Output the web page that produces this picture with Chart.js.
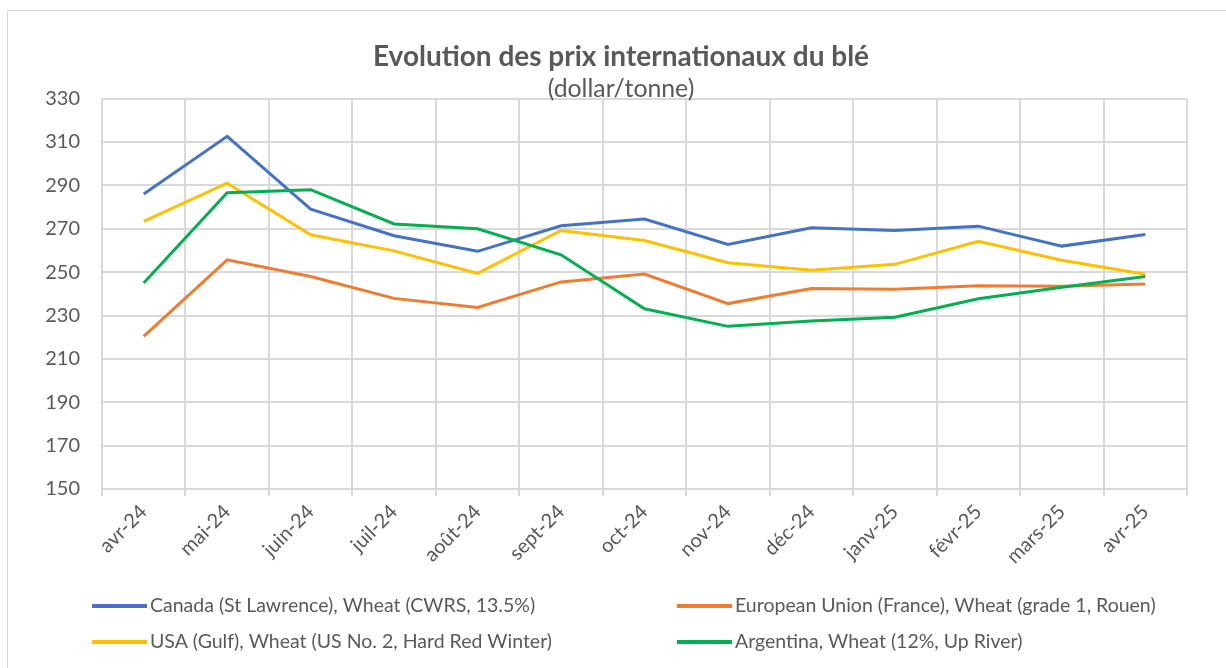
<!DOCTYPE html>
<html>
<head>
<meta charset="utf-8">
<script src="https://cdn.jsdelivr.net/npm/chart.js@4.4.1/dist/chart.umd.min.js"></script>
<style>
    body { margin: 0; background: #fff; }
    #wrap { position: relative; width: 1226px; height: 668px; overflow: hidden; }
    #frame { position: absolute; left: 7px; top: 10px; width: 1240px; height: 700px; border: 1px solid #d9d9d9; pointer-events: none; }
</style>
</head>
<body>
<div id="wrap">
    <div id="frame"></div>
    <canvas id="chart1" width="1226" height="668"></canvas>
</div>
<script>
// data
const months = ['avr-24', 'mai-24', 'juin-24', 'juil-24', 'août-24', 'sept-24', 'oct-24', 'nov-24', 'déc-24', 'janv-25', 'févr-25', 'mars-25', 'avr-25'];

const canada = [286, 312.6, 279, 266.8, 259.6, 271.4, 274.5, 262.8, 270.5, 269.2, 271.2, 262, 267.4];
const europe = [220.4, 255.7, 248, 237.9, 233.7, 245.5, 249.1, 235.5, 242.4, 242.1, 243.7, 243.5, 244.5];
const usa = [273.4, 291, 267.2, 259.8, 249.4, 269.2, 264.6, 254.3, 250.9, 253.6, 264.2, 255.5, 249];
const argentina = [245, 286.6, 288, 272.2, 270, 258, 233.1, 225, 227.5, 229.2, 237.7, 243, 248];

const seriesNames = [
    'Canada (St Lawrence), Wheat (CWRS, 13.5%)',
    'European Union (France), Wheat (grade 1, Rouen)',
    'USA (Gulf), Wheat (US No. 2, Hard Red Winter)',
    'Argentina, Wheat (12%, Up River)'
];
const seriesColors = ['#4472C4', '#ED7D31', '#FFC000', '#00B050'];

const textColor = '#595959';
const gridColor = '#d9d9d9';
const fontFamily = 'Lato, "Open Sans", sans-serif';

// legend in two columns like the Excel one
const gridLegend = {
    id: 'gridLegend',
    afterDraw(chart) {
        const c = chart.ctx;
        const colX = [92, 677];
        const rowY = [606, 642];
        c.save();
        c.font = '19.5px ' + fontFamily;
        c.textBaseline = 'middle';
        c.textAlign = 'left';
        chart.data.datasets.forEach((ds, i) => {
            const x = colX[i % 2];
            const y = rowY[Math.floor(i / 2)];
            c.strokeStyle = ds.borderColor;
            c.lineWidth = 4;
            c.beginPath();
            c.moveTo(x, y);
            c.lineTo(x + 55, y);
            c.stroke();
            c.fillStyle = textColor;
            c.fillText(ds.label, x + 58, y);
        });
        c.restore();
    }
};

const allSeries = [canada, europe, usa, argentina];

const ctx = document.querySelector('#chart1');

new Chart(ctx, {
    type: 'line',
    data: {
        labels: months,
        datasets: allSeries.map((values, i) => ({
            label: seriesNames[i],
            data: values,
            borderColor: seriesColors[i],
            backgroundColor: seriesColors[i],
            borderWidth: 3,
            pointRadius: 0,
            tension: 0,
            order: 3 - i
        }))
    },
    options: {
        responsive: false,
        animation: false,
        layout: {
            padding: { top: 0, left: 16, right: 0, bottom: 0 }
        },
        plugins: {
            legend: { display: false },
            tooltip: { enabled: false },
            title: {
                display: true,
                text: 'Evolution des prix internationaux du blé',
                color: textColor,
                font: { family: fontFamily, size: 28, weight: 'bold', lineHeight: 1.1 },
                padding: { top: 42, bottom: 0 }
            },
            subtitle: {
                display: true,
                text: '(dollar/tonne)',
                color: textColor,
                font: { family: fontFamily, size: 24.8, lineHeight: 0.8 },
                padding: { top: 6, bottom: 0 }
            }
        },
        scales: {
            y: {
                min: 150,
                max: 330,
                afterFit(scale) { scale.width = 86; },
                ticks: {
                    stepSize: 20,
                    color: textColor,
                    padding: 22,
                    font: { family: fontFamily, size: 20 }
                },
                grid: {
                    color: gridColor,
                    lineWidth: 2,
                    drawTicks: false
                },
                border: { display: false }
            },
            // empty strip on the right so the plot stops where Excel's does
            spacer: {
                type: 'linear',
                position: 'right',
                afterFit(scale) { scale.width = 39; },
                ticks: { display: false },
                grid: { display: false },
                border: { display: false }
            },
            x: {
                offset: true,
                afterFit(scale) { scale.height = 179; },
                ticks: {
                    color: textColor,
                    minRotation: 45,
                    maxRotation: 45,
                    autoSkip: false,
                    padding: 4,
                    font: { family: fontFamily, size: 20 }
                },
                grid: {
                    offset: true,
                    color: gridColor,
                    lineWidth: 2,
                    tickLength: 7
                },
                border: { display: false }
            }
        }
    },
    plugins: [gridLegend]
});
</script>
</body>
</html>
